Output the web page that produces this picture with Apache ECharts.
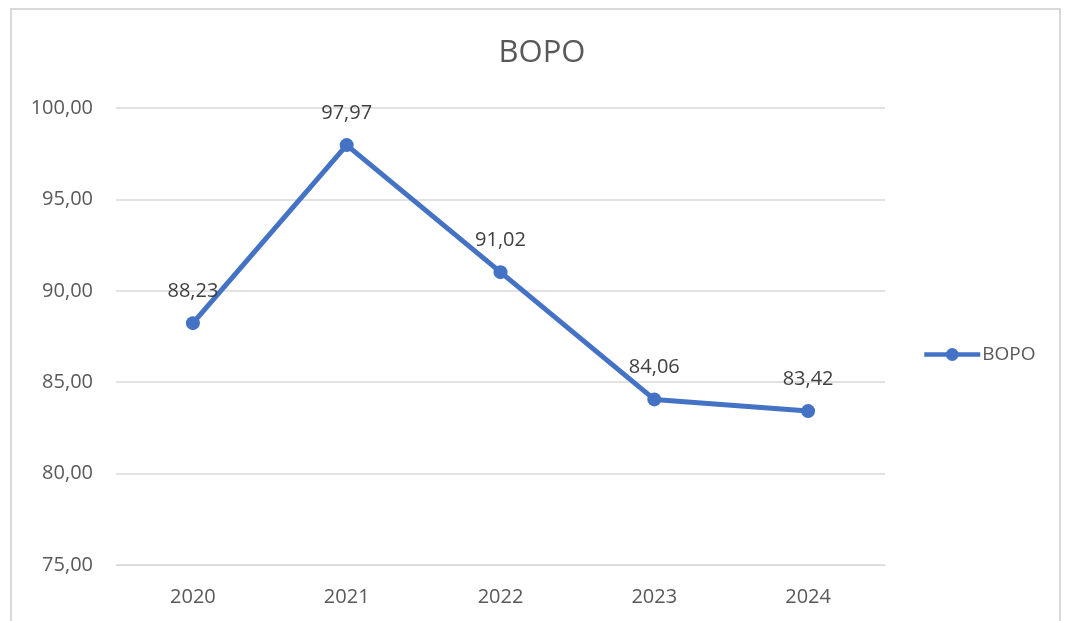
<!DOCTYPE html>
<html>
<head>
<meta charset="utf-8">
<script src="https://cdn.jsdelivr.net/npm/echarts@6/dist/echarts.min.js"></script>
<style>
  html, body { margin: 0; padding: 0; background: #fff; }
  #frame { position: absolute; left: 10px; top: 8px; width: 1051px; height: 620px; border: 2px solid #d9d9d9; border-bottom: none; box-sizing: border-box; }
  #chart { position: absolute; left: 0; top: 0; width: 1066px; height: 621px; }
</style>
</head>
<body>
<div id="frame"></div>
<div id="chart"></div>
<script>
"use strict";

var years = ["2020", "2021", "2022", "2023", "2024"];
var bopo = [88.23, 97.97, 91.02, 84.06, 83.42];
var seriesName = "BOPO";

function comma(v) {
	return v.toFixed(2).replace(".", ",");
}

var chart = echarts.init(document.getElementById("chart"));
var option = {
	animation: false,
	title: {
		text: "BOPO",
		left: 537,
		top: 33,
		textAlign: "center",
		textStyle: { fontFamily: "Open Sans", fontSize: 31, fontWeight: "normal", color: "#595959" }
	},
	legend: {
		data: [seriesName],
		left: 917,
		top: 340,
		itemWidth: 56,
		itemHeight: 16,
		itemGap: 4,
		lineStyle: { width: 4.5 },
		textStyle: { fontFamily: "Open Sans", fontSize: 19, color: "#595959", padding: [0, 0, 0, -3] }
	},
	grid: { left: 116, right: 181, top: 108, bottom: 56 },
	xAxis: {
		type: "category",
		data: years,
		axisLine: { lineStyle: { color: "#d9d9d9" } },
		axisTick: { show: false },
		axisLabel: { fontFamily: "Open Sans", fontSize: 20, color: "#595959", margin: 22 }
	},
	yAxis: {
		type: "value",
		min: 75,
		max: 100,
		interval: 5,
		axisLine: { show: false },
		axisTick: { show: false },
		splitLine: { lineStyle: { color: "#d9d9d9", width: 1.5 } },
		axisLabel: { fontFamily: "Open Sans", fontSize: 20, color: "#595959", margin: 23, formatter: comma }
	},
	series: [{
		name: seriesName,
		type: "line",
		data: bopo,
		symbol: "circle",
		symbolSize: 14,
		lineStyle: { color: "#4472C4", width: 5 },
		itemStyle: { color: "#4472C4" },
		label: {
			show: true,
			position: "top",
			distance: 15,
			fontFamily: "Open Sans",
			fontSize: 20,
			color: "#404040",
			formatter: function (p) { return comma(p.value); }
		}
	}]
};
chart.setOption(option);
</script>
</body>
</html>
